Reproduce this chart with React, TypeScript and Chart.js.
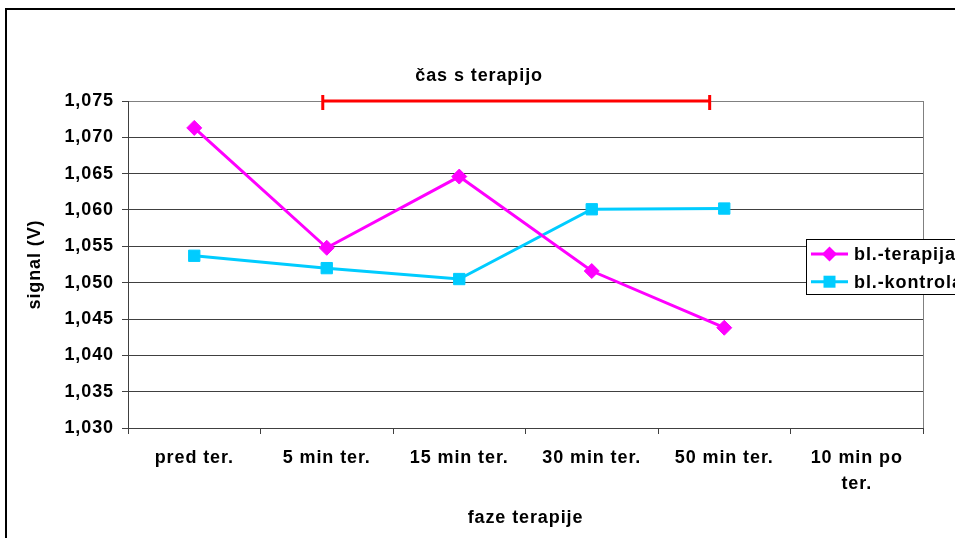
import React, { useEffect, useRef } from 'react';
import { Chart, registerables } from 'chart.js';

Chart.register(...registerables);

// ---- data ----
const categories: string[][] = [
  ['pred ter.'],
  ['5 min ter.'],
  ['15 min ter.'],
  ['30 min ter.'],
  ['50 min ter.'],
  ['10 min po', 'ter.'],
];
const seriesNames = ['bl.-terapija', 'bl.-kontrola'];
const terapija = [1.0713, 1.0548, 1.0646, 1.0516, 1.0438];
const kontrola = [1.0537, 1.052, 1.0505, 1.0601, 1.0602];
const yTickValues = [1.03, 1.035, 1.04, 1.045, 1.05, 1.055, 1.06, 1.065, 1.07, 1.075];
const yAxisTitle = 'signal (V)';
const xAxisTitle = 'faze terapije';
const bracketLabel = 'čas s terapijo';
const bracketRange = [0.97, 3.89]; // in category-index units
const bracketValue = 1.075;
const bracketLabelPos = [2.15, 1.0784];

// ---- styles ----
const FONT = '"Liberation Sans", Arial, Helvetica, sans-serif';
const FS = 18;
const SPACING = '0.9px';
const PINK = '#FF00FF';
const CYAN = '#00CCFF';
const RED = '#FF0000';
const GRID = '#404040';

const fmt = (v: number) => v.toFixed(3).replace('.', ',');

const decorPlugin = {
  id: 'decor',
  beforeUpdate(chart: any) {
    chart.ctx.letterSpacing = SPACING;
  },
  beforeLayout(chart: any) {
    chart.ctx.letterSpacing = SPACING;
  },
  beforeDraw(chart: any) {
    const ctx = chart.ctx;
    ctx.letterSpacing = SPACING;
    ctx.save();
    ctx.fillStyle = '#ffffff';
    ctx.fillRect(0, 0, chart.width, chart.height);
    ctx.strokeStyle = '#000000';
    ctx.lineWidth = 2;
    ctx.strokeRect(6, 9, 2000, 2000);
    ctx.restore();
  },
  beforeDatasetsDraw(chart: any) {
    const ctx = chart.ctx;
    const a = chart.chartArea;
    ctx.save();
    ctx.strokeStyle = '#808080';
    ctx.lineWidth = 1;
    ctx.beginPath();
    ctx.moveTo(Math.round(a.right) + 0.5, a.top);
    ctx.lineTo(Math.round(a.right) + 0.5, a.bottom);
    ctx.stroke();
    ctx.restore();
  },
  afterDatasetsDraw(chart: any) {
    const ctx = chart.ctx;
    const xs = chart.scales.x;
    const ys = chart.scales.y;
    const x0 = xs.getPixelForValue(bracketRange[0]);
    const x1 = xs.getPixelForValue(bracketRange[1]);
    const y = ys.getPixelForValue(bracketValue);
    ctx.save();
    ctx.strokeStyle = RED;
    ctx.lineWidth = 3;
    ctx.beginPath();
    ctx.moveTo(x0, y);
    ctx.lineTo(x1, y);
    ctx.moveTo(x0, y - 6);
    ctx.lineTo(x0, y + 9);
    ctx.moveTo(x1, y - 6);
    ctx.lineTo(x1, y + 9);
    ctx.stroke();

    ctx.letterSpacing = SPACING;
    ctx.fillStyle = '#000000';
    ctx.font = `bold ${FS}px ${FONT}`;
    ctx.textAlign = 'center';
    ctx.textBaseline = 'middle';
    ctx.fillText(
      bracketLabel,
      xs.getPixelForValue(bracketLabelPos[0]),
      ys.getPixelForValue(bracketLabelPos[1])
    );
    ctx.restore();
  },
  afterDraw(chart: any) {
    const ctx = chart.ctx;
    ctx.save();
    // legend box
    const bx = 806.5;
    const by = 239.5;
    ctx.fillStyle = '#ffffff';
    ctx.fillRect(bx, by, 400, 55);
    ctx.strokeStyle = '#000000';
    ctx.lineWidth = 1;
    ctx.strokeRect(bx, by, 400, 55);
    const rows = [254, 281.7];
    chart.data.datasets.forEach((ds: any, i: number) => {
      const yy = rows[i];
      const color = ds.borderColor;
      ctx.strokeStyle = color;
      ctx.fillStyle = color;
      ctx.lineWidth = 3;
      ctx.beginPath();
      ctx.moveTo(811, yy);
      ctx.lineTo(848, yy);
      ctx.stroke();
      const cx = 829.5;
      ctx.beginPath();
      if (ds.pointStyle === 'rectRot') {
        const r = 7.5;
        ctx.moveTo(cx, yy - r);
        ctx.lineTo(cx + r, yy);
        ctx.lineTo(cx, yy + r);
        ctx.lineTo(cx - r, yy);
        ctx.closePath();
      } else {
        const h = 6;
        ctx.rect(cx - h, yy - h, 2 * h, 2 * h);
      }
      ctx.fill();
      ctx.letterSpacing = SPACING;
      ctx.fillStyle = '#000000';
      ctx.font = `bold ${FS}px ${FONT}`;
      ctx.textAlign = 'left';
      ctx.textBaseline = 'middle';
      ctx.fillText(ds.label, 854, yy + 1);
    });
    ctx.restore();
  },
};

export default function App() {
  const ref = useRef<HTMLCanvasElement | null>(null);

  useEffect(() => {
    if (!ref.current) return;
    const chart = new Chart(ref.current, {
      type: 'line',
      data: {
        labels: categories,
        datasets: [
          {
            label: seriesNames[0],
            data: terapija,
            borderColor: PINK,
            backgroundColor: PINK,
            pointBackgroundColor: PINK,
            pointBorderColor: PINK,
            borderWidth: 3,
            pointStyle: 'rectRot',
            pointRadius: 7.5,
            pointBorderWidth: 1,
            tension: 0,
          },
          {
            label: seriesNames[1],
            data: kontrola,
            borderColor: CYAN,
            backgroundColor: CYAN,
            pointBackgroundColor: CYAN,
            pointBorderColor: CYAN,
            borderWidth: 3,
            pointStyle: 'rect',
            pointRadius: 8,
            pointBorderWidth: 1,
            tension: 0,
          },
        ],
      },
      options: {
        responsive: false,
        animation: false,
        devicePixelRatio: 1,
        layout: { padding: { top: 101, right: 32, bottom: 0, left: 0 } },
        plugins: {
          legend: { display: false },
          tooltip: { enabled: false },
          title: { display: false },
        },
        scales: {
          x: {
            type: 'category',
            offset: true,
            grid: {
              offset: true,
              drawOnChartArea: false,
              drawTicks: true,
              tickLength: 6,
              color: GRID,
              tickColor: GRID,
            },
            border: { display: true, color: GRID, width: 1 },
            ticks: {
              autoSkip: false,
              maxRotation: 0,
              minRotation: 0,
              padding: 11,
              color: '#000000',
              font: { family: FONT, size: FS, weight: 'bold', lineHeight: 1.45 },
            },
            title: {
              display: true,
              text: xAxisTitle,
              color: '#000000',
              font: { family: FONT, size: FS, weight: 'bold', lineHeight: 1.2 },
              padding: { top: 0, bottom: 9 },
            },
            afterFit: (s: any) => {
              s.height = 110;
            },
          },
          y: {
            type: 'linear',
            min: 1.03,
            max: 1.075,
            afterBuildTicks: (s: any) => {
              s.ticks = yTickValues.map((v) => ({ value: v }));
            },
            grid: {
              drawTicks: true,
              tickLength: 6,
              color: (c: any) => (c.tick && c.tick.value >= 1.0749 ? '#808080' : GRID),
              tickColor: GRID,
            },
            border: { display: true, color: GRID, width: 1 },
            ticks: {
              padding: 8,
              color: '#000000',
              font: { family: FONT, size: FS, weight: 'bold' },
              callback: (v: any) => fmt(Number(v)),
            },
            title: {
              display: true,
              text: yAxisTitle,
              color: '#000000',
              font: { family: FONT, size: FS, weight: 'bold', lineHeight: 1.2 },
              padding: { top: 24, bottom: 0 },
            },
            afterFit: (s: any) => {
              s.width = 128;
            },
          },
        },
      } as any,
      plugins: [decorPlugin as any],
    });
    return () => chart.destroy();
  }, []);

  return (
    <div style={{ position: 'fixed', left: 0, top: 0, width: 955, height: 538 }}>
      <canvas ref={ref} width={955} height={538} style={{ display: 'block', width: 955, height: 538 }} />
    </div>
  );
}
